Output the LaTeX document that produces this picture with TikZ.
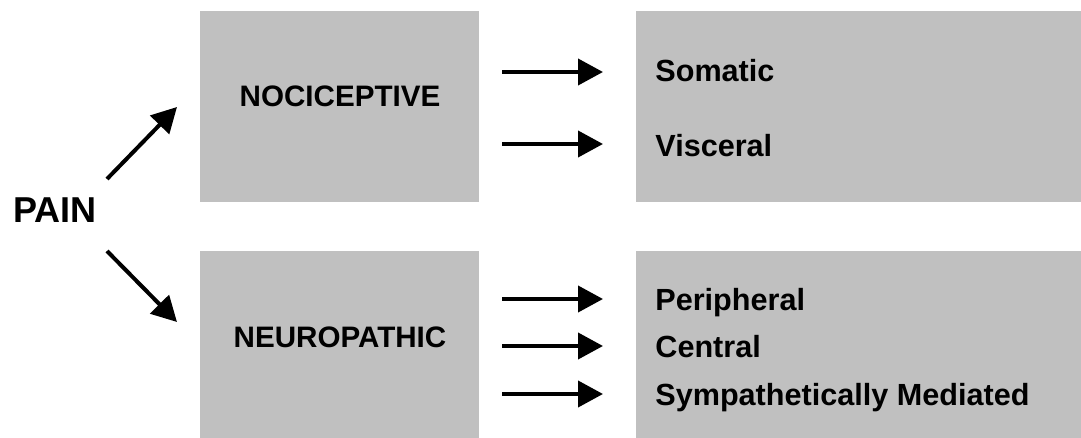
\documentclass[tikz,border=0pt]{standalone}
\usepackage{fontspec}
\setmainfont{Liberation Sans}
\usepackage{tikz}
\usetikzlibrary{arrows.meta}
\definecolor{boxgray}{HTML}{C0C0C0}

\begin{document}
\begin{tikzpicture}[x=0.5pt,y=-0.5pt,
    >={Triangle[length=12.5pt,width=13pt]},
    box/.style={fill=boxgray,draw=none,anchor=north west,inner sep=0pt},
    lbl/.style={inner sep=0pt,font=\bfseries\fontsize{15.3}{18}\selectfont},
    head/.style={inner sep=0pt,anchor=base,font=\bfseries\fontsize{14.8}{17}\selectfont},
    arr/.style={->,line width=2pt}]
  \useasboundingbox (0,0) rectangle (1081,438);

  % boxes
  \node[box,minimum width=139.5pt,minimum height=95.5pt]  (noci)  at (200,11)  {};
  \node[box,minimum width=222.5pt,minimum height=95.5pt]  (nocr)  at (636,11)  {};
  \node[box,minimum width=139.5pt,minimum height=93.5pt]  (neur)  at (200,251) {};
  \node[box,minimum width=222.5pt,minimum height=93.5pt]  (neurr) at (636,251) {};

  % labels
  \node[inner sep=0pt,anchor=base west,font=\bfseries\fontsize{18}{21}\selectfont] (pain) at (13,223) {PAIN};
  \node[head] (nocit) at (340,107) {NOCICEPTIVE};
  \node[head] (neurt) at (340,347) {NEUROPATHIC};
  \node[lbl,anchor=base west] (som) at (655,82)  {Somatic};
  \node[lbl,anchor=base west] (vis) at (655,157) {Visceral};
  \node[lbl,anchor=base west] (per) at (655,310) {Peripheral};
  \node[lbl,anchor=base west] (cen) at (655,357) {Central};
  \node[lbl,anchor=base west] (sym) at (655,405) {Sympathetically Mediated};

  % arrow ends
  \coordinate (up0) at (107,179);  \coordinate (up1) at (177,107);
  \coordinate (dn0) at (107,251);  \coordinate (dn1) at (177,322);
  \foreach \n/\y in {a/72,b/144,c/299,d/346,e/394} {
    \coordinate (h\n0) at (502,\y);
    \coordinate (h\n1) at (603,\y);
  }

  \draw[arr] (up0) -- (up1);
  \draw[arr] (dn0) -- (dn1);
  \foreach \n in {a,b,c,d,e}
    \draw[arr] (h\n0) -- (h\n1);
\end{tikzpicture}
\end{document}
